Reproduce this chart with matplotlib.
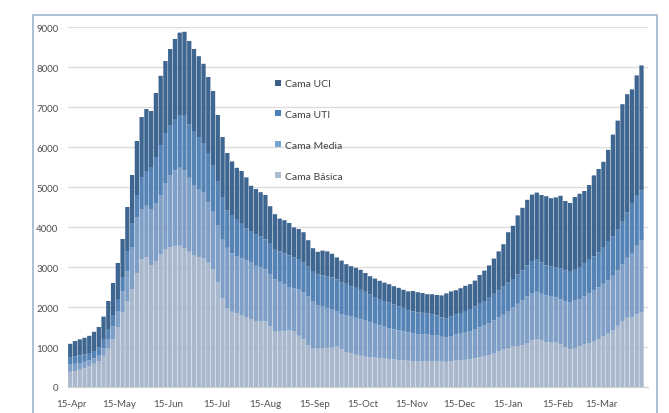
import matplotlib
matplotlib.use("Agg")
import matplotlib.pyplot as plt
import matplotlib.dates as mdates
from matplotlib.patches import Rectangle
from matplotlib.lines import Line2D
import numpy as np
import pandas as pd

# Sampled every 3 days starting 14-Apr-2020
start_date = "2020-04-14"
step_days = 3

cama_basica = [380, 400, 430, 470, 520, 580, 650, 780, 960, 1200, 1500, 1860, 2150, 2450, 2850, 3200,
               3250, 3050, 3150, 3310, 3450, 3490, 3530, 3530, 3460, 3380, 3300, 3250, 3210, 3110,
               2950, 2610, 2220, 1960, 1880, 1840, 1790, 1750, 1700, 1650, 1650, 1640, 1510, 1400,
               1390, 1390, 1420, 1400, 1280, 1190, 1050, 975, 960, 975, 985, 985, 1010, 945, 875,
               835, 805, 780, 755, 745, 735, 725, 710, 700, 688, 675, 665, 655, 650, 650, 650, 650,
               650, 648, 635, 628, 645, 660, 668, 680, 690, 715, 740, 760, 790, 840, 890, 935, 975,
               1010, 1025, 1050, 1100, 1160, 1200, 1160, 1120, 1110, 1110, 1065, 1000, 945, 970,
               1015, 1060, 1100, 1145, 1190, 1260, 1335, 1425, 1530, 1650, 1730, 1740, 1820, 1860]

cama_media = [180, 180, 170, 160, 150, 140, 150, 190, 240, 320, 400, 540, 750, 1050, 1400, 1250,
              1280, 1400, 1450, 1490, 1650, 1810, 1890, 1950, 1960, 1850, 1750, 1700, 1650, 1510,
              1430, 1440, 1480, 1520, 1460, 1420, 1430, 1420, 1410, 1380, 1340, 1300, 1310, 1290,
              1240, 1180, 1080, 1070, 1170, 1170, 1210, 1175, 1090, 1035, 995, 965, 890, 875, 925,
              940, 925, 910, 905, 875, 845, 815, 800, 770, 752, 740, 725, 715, 695, 675, 670, 670,
              650, 637, 620, 612, 630, 660, 682, 695, 710, 735, 755, 780, 800, 830, 860, 870, 925,
              980, 1055, 1120, 1160, 1190, 1180, 1170, 1170, 1150, 1130, 1125, 1140, 1175, 1190,
              1175, 1210, 1240, 1275, 1300, 1320, 1335, 1355, 1380, 1410, 1500, 1610, 1710, 1800]

cama_uti = [190, 190, 190, 180, 180, 180, 190, 210, 230, 260, 300, 350, 500, 600, 550, 800,
            870, 1050, 1150, 1250, 1250, 1250, 1280, 1320, 1360, 1330, 1350, 1300, 1240, 1230,
            1170, 1100, 1050, 940, 960, 940, 860, 800, 790, 790, 770, 750, 780, 740,
            760, 770, 790, 770, 750, 750, 750, 750, 760, 780, 790, 790, 790, 790, 780,
            745, 750, 740, 720, 700, 670, 660, 640, 640, 620, 605, 590, 550, 545, 540, 535, 525,
            520, 505, 485, 470, 485, 490, 500, 525, 550, 560, 585, 610, 640, 660, 670, 705, 710,
            710, 740, 750, 780, 800, 800, 780, 750, 750, 750, 780, 780, 760, 770,
            810, 830, 840, 850, 880, 920, 980, 990, 1020, 1070, 1130, 1230, 1250, 1250]

cama_uci = [330, 380, 400, 420, 430, 480, 510, 580, 720, 820, 900, 950, 1100, 1200, 1350, 1500,
            1550, 1400, 1600, 1730, 1800, 1900, 2000, 2060, 2100, 2090, 2050, 2020, 1980, 1900,
            1850, 1650, 1500, 1430, 1340, 1280, 1320, 1270, 1130, 1130, 1110, 1110, 920, 890,
            820, 830, 810, 750, 750, 760, 660, 570, 570, 620, 620, 590, 550, 550, 490,
            500, 500, 500, 470, 450, 460, 455, 460, 460, 460, 460, 450, 470, 510, 505, 495, 475,
            500, 510, 550, 630, 630, 610, 620, 630, 620, 650, 720, 760, 810, 880, 970, 1060, 1260,
            1330, 1470, 1560, 1640, 1660, 1680, 1690, 1730, 1710, 1750, 1810, 1730, 1720, 1820,
            1830, 1800, 1870, 2020, 2080, 2130, 2280, 2540, 2730, 2940, 2960, 2860, 3010, 3130]

series_names = ["Cama Básica", "Cama Media", "Cama UTI", "Cama UCI"]
series_colors = ["#a9b8cd", "#7f9fc6", "#5583b6", "#3f6690"]
legend_colors = ["#a9bcd3", "#7aa3cf", "#4a80b5", "#3b5f86"]

tick_dates = ["2020-04-15", "2020-05-15", "2020-06-15", "2020-07-15", "2020-08-15", "2020-09-15",
              "2020-10-15", "2020-11-15", "2020-12-15", "2021-01-15", "2021-02-15", "2021-03-15"]
tick_labels = ["15-Apr", "15-May", "15-Jun", "15-Jul", "15-Aug", "15-Sep",
               "15-Oct", "15-Nov", "15-Dec", "15-Jan", "15-Feb", "15-Mar"]
y_ticks = [0, 1000, 2000, 3000, 4000, 5000, 6000, 7000, 8000, 9000]

plt.rcParams["font.family"] = ["Lato", "DejaVu Sans"]

W, H = 669, 414
fig = plt.figure(figsize=(W / 100, H / 100), dpi=100)
ax = fig.add_axes([68 / W, 1 - 388 / H, (648 - 68) / W, (388 - 28) / H])

series = [cama_basica, cama_media, cama_uti, cama_uci]
n = len(cama_basica)
dates = pd.date_range(start_date, periods=n, freq=f"{step_days}D")
xnum = mdates.date2num(dates.to_pydatetime())

bottom = np.zeros(n)
for vals, col, name in zip(series, series_colors, series_names):
    v = np.array(vals, dtype=float)
    bars = ax.bar(xnum, v, width=step_days * 0.9, bottom=bottom, color=col,
                  linewidth=0, label=name, zorder=2)
    for b in bars:
        b.set_snap(False)
    bottom += v

ax.set_ylim(0, 9000)
x0 = mdates.date2num(pd.Timestamp("2020-04-15")) - 2.4
x1 = x0 + 365.5
ax.set_xlim(x0, x1)
ax.set_yticks(y_ticks)
ax.set_yticklabels([str(t) for t in y_ticks])
ax.set_xticks(mdates.date2num(pd.to_datetime(tick_dates).to_pydatetime()))
ax.set_xticklabels(tick_labels)
ax.tick_params(axis="both", length=0, labelsize=7, labelcolor="#505050")
ax.tick_params(axis="y", pad=7)
ax.tick_params(axis="x", pad=9)
ax.grid(axis="y", color="#dcdcdc", linewidth=1.0, zorder=0)
ax.set_axisbelow(True)
for s in ["top", "right", "left"]:
    ax.spines[s].set_visible(False)
ax.spines["bottom"].set_color("#d0d0d0")

# Legend
handles = [Line2D([0], [0], marker="s", linestyle="none", markersize=4.5,
                  markerfacecolor=c, markeredgewidth=0) for c in legend_colors]
names = series_names
leg = fig.legend(handles[::-1], names[::-1], loc="upper left",
                 bbox_to_anchor=(275 / W, 1 - 80 / H), bbox_transform=fig.transFigure,
                 frameon=False, fontsize=7.5, labelspacing=2.06, handlelength=0.6,
                 handletextpad=0.35, borderpad=0, borderaxespad=0)
for t in leg.get_texts():
    t.set_color("#404040")

# Outer chart frame
fig.patches.append(Rectangle((33 / W, -0.05), (657 - 33) / W, 1.05 - 16 / H,
                             transform=fig.transFigure, fill=False,
                             edgecolor="#9fb3cc", linewidth=1.2))

fig.savefig("out.png", dpi=100)
